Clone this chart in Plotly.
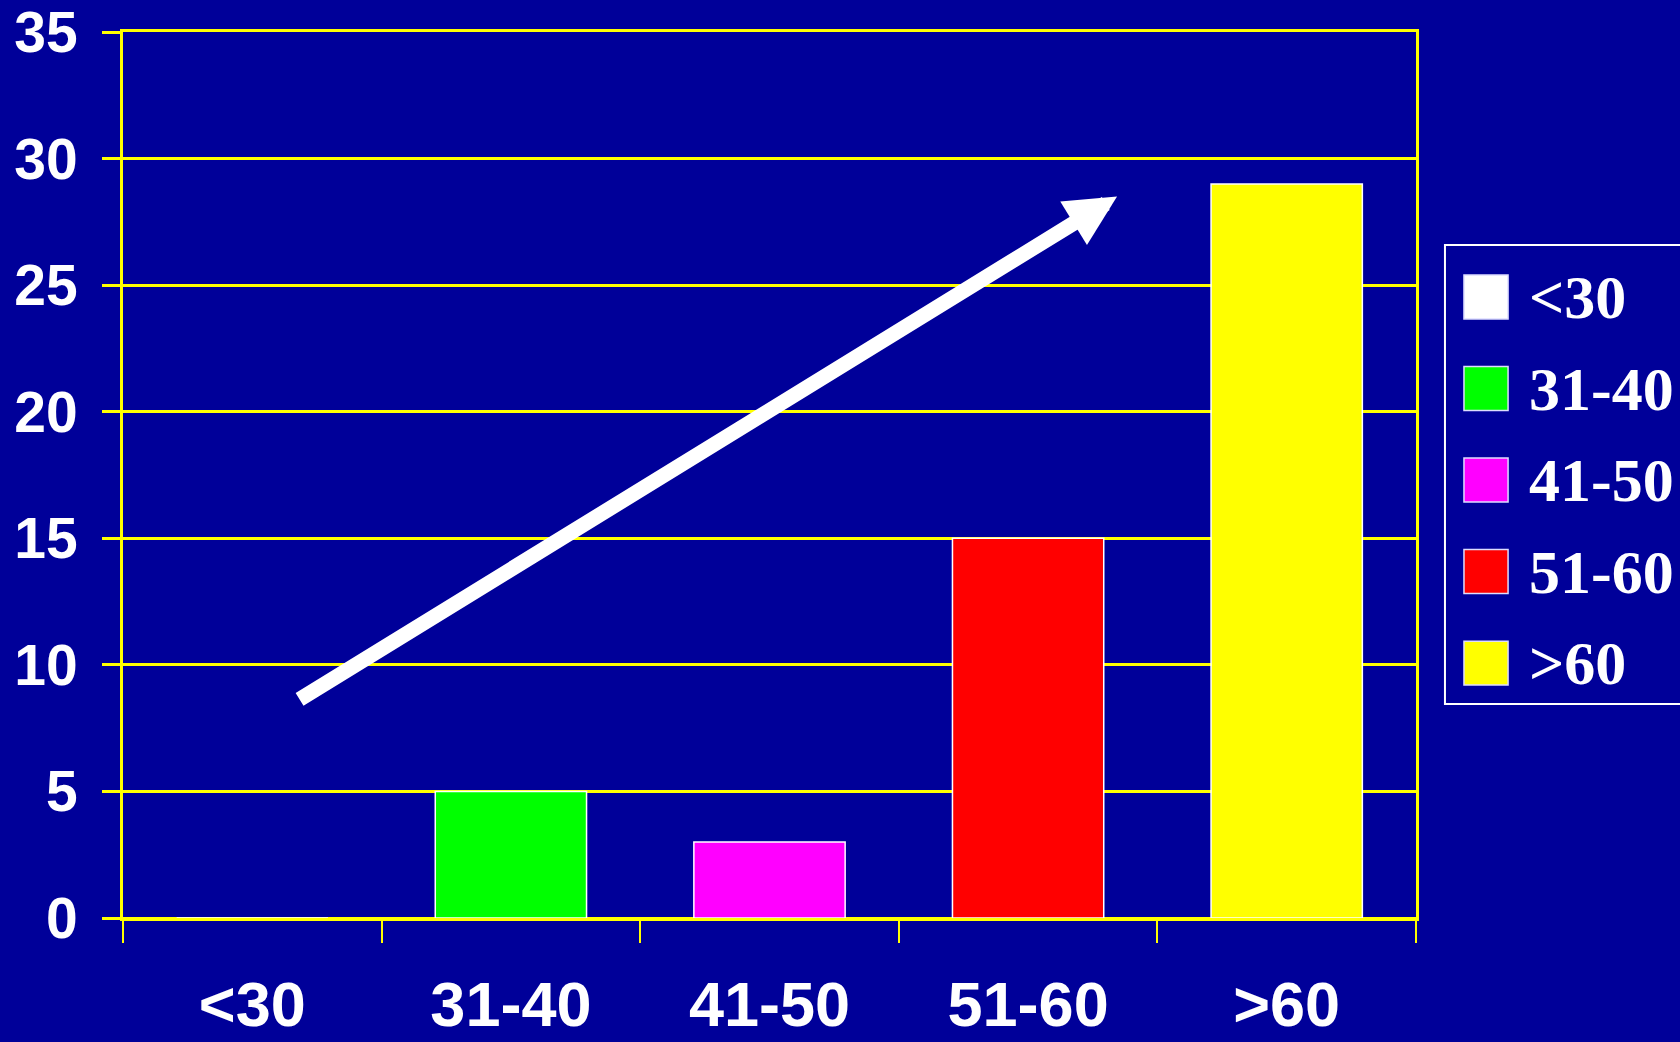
import plotly.graph_objects as go

# Age groups and counts
categories = ["<30", "31-40", "41-50", "51-60", ">60"]
counts = [0, 5, 3, 15, 29]
colors = ["#FFFFFF", "#00FF00", "#FF00FF", "#FF0000", "#FFFF00"]
y_ticks = [0, 5, 10, 15, 20, 25, 30, 35]

BG = "#000099"
GRID = "#FFFF00"

fig = go.Figure()
fig.add_trace(go.Bar(
    x=categories,
    y=counts,
    width=0.585,
    marker=dict(color=colors, line=dict(color="#FFFFFF", width=1.5)),
    showlegend=False,
))

# Trend arrow (data coordinates on the category axis)
arrow_tail = (0.177, 8.6)
arrow_head = (3.344, 28.5)
fig.add_annotation(
    x=arrow_head[0], y=arrow_head[1], xref="x", yref="y",
    ax=arrow_tail[0], ay=arrow_tail[1], axref="x", ayref="y",
    showarrow=True, arrowhead=2, arrowsize=0.68, arrowwidth=15,
    arrowcolor="#FFFFFF", text="",
)

# Legend drawn as a framed box with large swatches
leg_x0, leg_x1 = 1.0224, 1.21
leg_y0, leg_y1 = 0.2415, 0.7596
fig.add_shape(type="rect", xref="paper", yref="paper",
              x0=leg_x0, x1=leg_x1, y0=leg_y0, y1=leg_y1,
              line=dict(color="#FFFFFF", width=2), fillcolor=BG, layer="above")
row_top, row_step, half = 0.7009, 0.1033, 0.0248
sw_x0, sw_x1 = 1.0371, 1.0712
for i, (cat, col) in enumerate(zip(categories, colors)):
    yc = row_top - i * row_step
    fig.add_shape(type="rect", xref="paper", yref="paper",
                  x0=sw_x0, x1=sw_x1, y0=yc - half, y1=yc + half,
                  line=dict(color="#DDDDFF", width=1.5), fillcolor=col, layer="above")
    fig.add_annotation(x=1.0858, y=yc, xref="paper", yref="paper",
                       xanchor="left", yanchor="middle", showarrow=False,
                       text=cat,
                       font=dict(family="Liberation Serif", size=62,
                                 color="#FFFFFF", weight="bold"))

fig.update_layout(
    width=1680, height=1042,
    paper_bgcolor=BG, plot_bgcolor=BG,
    margin=dict(l=123, r=264, t=32, b=124, autoexpand=False),
    showlegend=False,
)
fig.update_xaxes(
    type="category", range=[-0.5, 4.5], automargin=False,
    showgrid=False, showline=True, linecolor=GRID, linewidth=3, mirror=True,
    ticks="outside", tickson="boundaries", ticklen=22, tickwidth=2, tickcolor=GRID,
    ticklabelstandoff=29, ticklabeloverflow="allow",
    tickfont=dict(family="Liberation Sans", size=63, color="#FFFFFF", weight="bold"),
)
fig.update_yaxes(
    range=[0, 35], tickvals=y_ticks, automargin=False,
    showgrid=True, gridcolor=GRID, gridwidth=3,
    zeroline=True, zerolinecolor=GRID, zerolinewidth=3,
    showline=True, linecolor=GRID, linewidth=3, mirror=True,
    ticks="outside", ticklen=18, tickwidth=3, tickcolor=GRID,
    ticklabelstandoff=13, ticklabeloverflow="allow",
    tickfont=dict(family="Liberation Sans", size=57, color="#FFFFFF", weight="bold"),
)

fig.write_html("out.html")
